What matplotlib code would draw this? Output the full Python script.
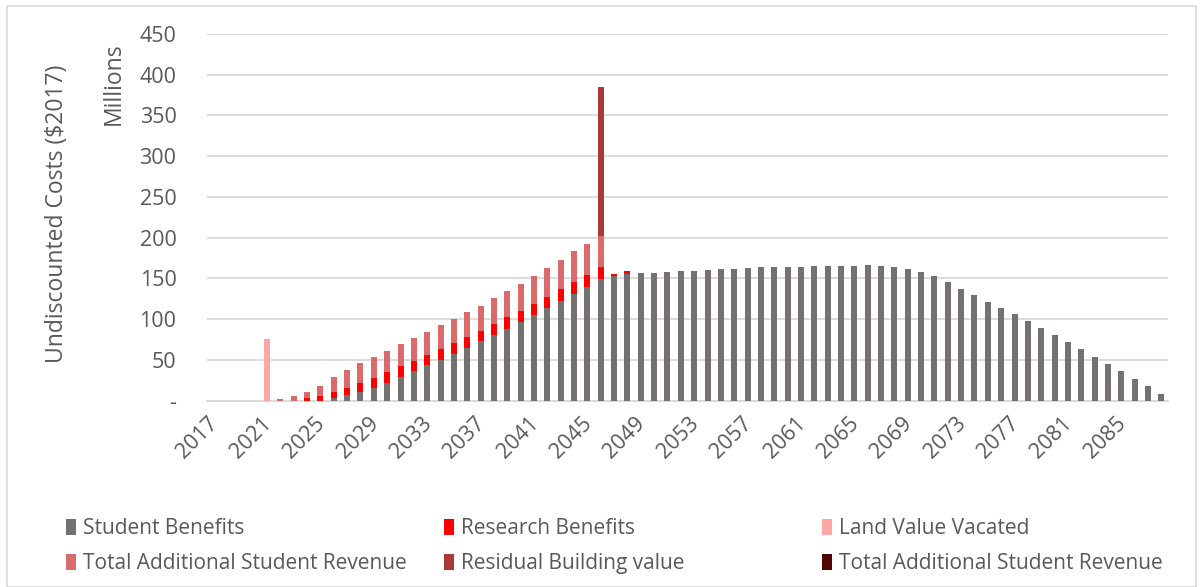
# stacked bar chart of undiscounted costs by year
import matplotlib
matplotlib.use('Agg')
import matplotlib.pyplot as plt
import matplotlib.transforms as mtrans
from matplotlib.patches import Patch, Rectangle
import numpy as np

plt.rcParams['font.family'] = ['Open Sans', 'DejaVu Sans']

years = list(range(2017, 2089))

# student benefits (grey), 2017..2088
student = [0, 0, 0, 0, 0, 0, 0, 0, 0,
           2.5, 6.2, 10, 15.6, 21.8, 29.2, 36.2, 43.2, 50.3, 57.3,
           64.7, 72.5, 80.3, 88, 96.2, 104.4, 113.4, 121.6, 131, 139.6,
           149, 152.6, 155, 156, 156.7, 157.5, 158.5, 158.9, 159.7, 160.9,
           161.8, 162.6, 163.5, 163.8, 164.2, 164.3, 164.6, 165, 165.1, 165.4,
           165.8, 165, 163.8, 161.8, 157.7, 152.8, 145, 137.2, 129, 121.2,
           113.4, 105.7, 97.9, 89.3, 80.7, 71.7, 62.7, 53.6, 45, 36,
           26.6, 17.2, 8.2]

# research benefits (red)
research = [0, 0, 0, 0, 0, 0, 0, 2.9, 6,
            8, 9.6, 11.5, 12, 13.2, 12.8, 12.4, 13.2, 12.7, 13.1,
            13.5, 13.1, 13.5, 14, 13.5, 13.9, 13.6, 15.2, 14.4, 14,
            14.4, 3, 3.4] + [0] * 40

# total additional student revenue (light red)
revenue = [0, 0, 0, 0, 0, 2, 6.1, 8.1, 12.4,
           18.2, 21.8, 25.1, 25.9, 25.5, 27.1, 27.9, 28, 29.3, 29.9,
           29.9, 30.7, 31.5, 32.3, 33.6, 34.9, 35.6, 36, 37.6, 38.9,
           38.1] + [0] * 42

# residual building value, only 2046
residual = [0] * 29 + [183.5] + [0] * 42
# land value vacated, only 2021
land = [0] * 4 + [75.5] + [0] * 67
# second revenue series, nothing visible
revenue2 = [0] * 72

c_student = '#767171'
c_research = '#ff0000'
c_land = '#ffa7a7'
c_revenue = '#d96b6c'
c_residual = '#aa3a3a'
c_revenue2 = '#520505'

fig = plt.figure(figsize=(12.03, 5.87), dpi=100)
ax = fig.add_axes([207 / 1203, 1 - 400.5 / 587, 961 / 1203, 366.5 / 587])

x = np.arange(len(years))
w = 0.45
s = np.array(student)
r = np.array(research)
v = np.array(revenue)
ax.bar(x, s, w, color=c_student, zorder=3)
ax.bar(x, r, w, bottom=s, color=c_research, zorder=3)
ax.bar(x, land, w, color=c_land, zorder=3)
ax.bar(x, v, w, bottom=s + r, color=c_revenue, zorder=3)
ax.bar(x, residual, w, bottom=s + r + v, color=c_residual, zorder=3)
ax.bar(x, revenue2, w, bottom=s + r + v + np.array(residual), color=c_revenue2, zorder=3)

ax.set_xlim(-0.5, len(years) - 0.5)
ax.set_ylim(0, 450)
ax.set_yticks(range(0, 451, 50))
ax.set_yticklabels(['-'] + [str(t) for t in range(50, 451, 50)])
ax.set_xticks(x[::4])
ax.set_xticklabels([str(y) for y in years[::4]], rotation=45, ha='right',
                   rotation_mode='anchor')
ax.tick_params(axis='both', length=0, labelsize=15.5, colors='#595959')
ax.tick_params(axis='y', pad=22)
ax.tick_params(axis='x', pad=9)
shift = mtrans.ScaledTranslation(-6 / 100, 0, fig.dpi_scale_trans)
for t in ax.get_xticklabels():
    t.set_transform(t.get_transform() + shift)
ax.grid(axis='y', color='#d9d9d9', lw=1.3, zorder=0)
for sp in ['top', 'right', 'left']:
    ax.spines[sp].set_visible(False)
ax.spines['bottom'].set_color('#d9d9d9')
ax.spines['bottom'].set_linewidth(1.3)

fig.text(57 / 1203, 1 - 214 / 587, 'Undiscounted Costs ($2017)', rotation=90,
         ha='center', va='center', fontsize=16.5, color='#595959')
fig.text(114 / 1203, 1 - 84 / 587, 'Millions', rotation=90,
         ha='center', va='center', fontsize=16.5, color='#595959')

# legend, three columns of two entries
cols = [
    (66, [('Student Benefits', c_student), ('Total Additional Student Revenue', c_revenue)]),
    (444, [('Research Benefits', c_research), ('Residual Building value', c_residual)]),
    (822, [('Land Value Vacated', c_land), ('Total Additional Student Revenue', c_revenue2)]),
]
for xpos, entries in cols:
    handles = [Patch(facecolor=c, label=lab) for lab, c in entries]
    fig.legend(handles=handles, loc='upper left',
               bbox_to_anchor=(xpos / 1203, 1 - 518 / 587),
               frameon=False, fontsize=15, labelcolor='#595959',
               handlelength=0.5, handleheight=0.8, handletextpad=0.3,
               labelspacing=0.68, borderaxespad=0, borderpad=0)

fig.patches.append(Rectangle((7 / 1203, 0), 1189 / 1203, 1 - 6 / 587,
                             transform=fig.transFigure, fill=False,
                             edgecolor='#d9d9d9', lw=1.2))

fig.savefig('out.png', dpi=100)
